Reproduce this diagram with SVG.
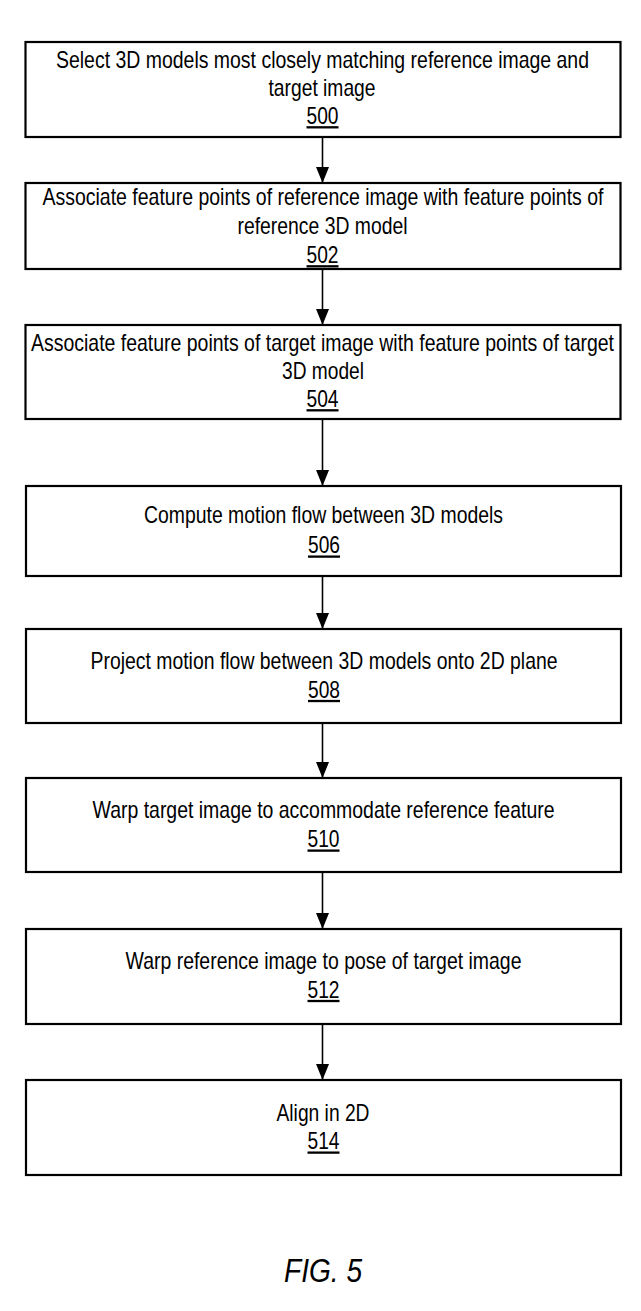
<svg xmlns="http://www.w3.org/2000/svg" width="641" height="1311" viewBox="0 0 641 1311">
<style>
.box{fill:#fff;stroke:#000;stroke-width:2.2}
.t{font-family:"Liberation Sans",Arial,sans-serif;font-size:23px;fill:#000;text-anchor:middle}
.n{text-decoration:underline}
.fig{font-family:"Liberation Sans",Arial,sans-serif;font-size:34px;font-style:italic;fill:#000;text-anchor:middle}
.c{stroke:#000;stroke-width:1.6;fill:none}
</style>
<rect width="641" height="1311" fill="#fff"/>
<g id="connectors">
<line class="c" x1="322.5" y1="137" x2="322.5" y2="183"/>
<path d="M316,167 L329,167 L322.5,183 Z"/>
<line class="c" x1="322.5" y1="269" x2="322.5" y2="325"/>
<path d="M316,309 L329,309 L322.5,325 Z"/>
<line class="c" x1="322.5" y1="419" x2="322.5" y2="486"/>
<path d="M316,470 L329,470 L322.5,486 Z"/>
<line class="c" x1="322.5" y1="576" x2="322.5" y2="629"/>
<path d="M316,613 L329,613 L322.5,629 Z"/>
<line class="c" x1="322.5" y1="723" x2="322.5" y2="778"/>
<path d="M316,762 L329,762 L322.5,778 Z"/>
<line class="c" x1="322.5" y1="872" x2="322.5" y2="929"/>
<path d="M316,913 L329,913 L322.5,929 Z"/>
<line class="c" x1="322.5" y1="1024" x2="322.5" y2="1080"/>
<path d="M316,1064 L329,1064 L322.5,1080 Z"/>
</g>
<g id="n500">
<rect class="box" x="25.5" y="42" width="595" height="95"/>
<text class="t" transform="translate(322.5 68) scale(0.84 1)" textLength="634.5" lengthAdjust="spacingAndGlyphs">Select 3D models most closely matching reference image and</text>
<text class="t" transform="translate(322 96) scale(0.84 1)" textLength="127.4" lengthAdjust="spacingAndGlyphs">target image</text>
<text class="t n" transform="translate(322.5 124) scale(0.84 1)" textLength="38.1" lengthAdjust="spacingAndGlyphs">500</text>
</g>
<g id="n502">
<rect class="box" x="25.5" y="183" width="595" height="86"/>
<text class="t" transform="translate(323 205) scale(0.84 1)" textLength="667.9" lengthAdjust="spacingAndGlyphs">Associate feature points of reference image with feature points of</text>
<text class="t" transform="translate(322.5 233.5) scale(0.84 1)" textLength="202.4" lengthAdjust="spacingAndGlyphs">reference 3D model</text>
<text class="t n" transform="translate(322.5 263) scale(0.84 1)" textLength="38.1" lengthAdjust="spacingAndGlyphs">502</text>
</g>
<g id="n504">
<rect class="box" x="25.5" y="325" width="595" height="94"/>
<text class="t" transform="translate(322.5 350.5) scale(0.84 1)" textLength="694" lengthAdjust="spacingAndGlyphs">Associate feature points of target image with feature points of target</text>
<text class="t" transform="translate(323 379) scale(0.84 1)" textLength="97.6" lengthAdjust="spacingAndGlyphs">3D model</text>
<text class="t n" transform="translate(322.5 407) scale(0.84 1)" textLength="38.1" lengthAdjust="spacingAndGlyphs">504</text>
</g>
<g id="n506">
<rect class="box" x="26" y="486" width="595" height="90"/>
<text class="t" transform="translate(323.5 523.3) scale(0.84 1)" textLength="427.4" lengthAdjust="spacingAndGlyphs">Compute motion flow between 3D models</text>
<text class="t n" transform="translate(324 553.3) scale(0.84 1)" textLength="38.1" lengthAdjust="spacingAndGlyphs">506</text>
</g>
<g id="n508">
<rect class="box" x="26" y="629" width="595" height="94"/>
<text class="t" transform="translate(324 669.3) scale(0.84 1)" textLength="556" lengthAdjust="spacingAndGlyphs">Project motion flow between 3D models onto 2D plane</text>
<text class="t n" transform="translate(324 697.7) scale(0.84 1)" textLength="38.1" lengthAdjust="spacingAndGlyphs">508</text>
</g>
<g id="n510">
<rect class="box" x="26" y="778" width="595" height="94"/>
<text class="t" transform="translate(323.5 818.3) scale(0.84 1)" textLength="550" lengthAdjust="spacingAndGlyphs">Warp target image to accommodate reference feature</text>
<text class="t n" transform="translate(323.5 847.3) scale(0.84 1)" textLength="38.1" lengthAdjust="spacingAndGlyphs">510</text>
</g>
<g id="n512">
<rect class="box" x="26" y="929" width="595" height="95"/>
<text class="t" transform="translate(323.5 969.3) scale(0.84 1)" textLength="471.4" lengthAdjust="spacingAndGlyphs">Warp reference image to pose of target image</text>
<text class="t n" transform="translate(323.5 997.7) scale(0.84 1)" textLength="38.1" lengthAdjust="spacingAndGlyphs">512</text>
</g>
<g id="n514">
<rect class="box" x="26" y="1080" width="595" height="95"/>
<text class="t" transform="translate(323 1120.7) scale(0.84 1)" textLength="110.7" lengthAdjust="spacingAndGlyphs">Align in 2D</text>
<text class="t n" transform="translate(323.5 1149.3) scale(0.84 1)" textLength="38.1" lengthAdjust="spacingAndGlyphs">514</text>
</g>
<g id="caption">
<text class="fig" transform="translate(323 1282) scale(0.84 1)" textLength="92.9" lengthAdjust="spacingAndGlyphs">FIG. 5</text>
</g>
</svg>
